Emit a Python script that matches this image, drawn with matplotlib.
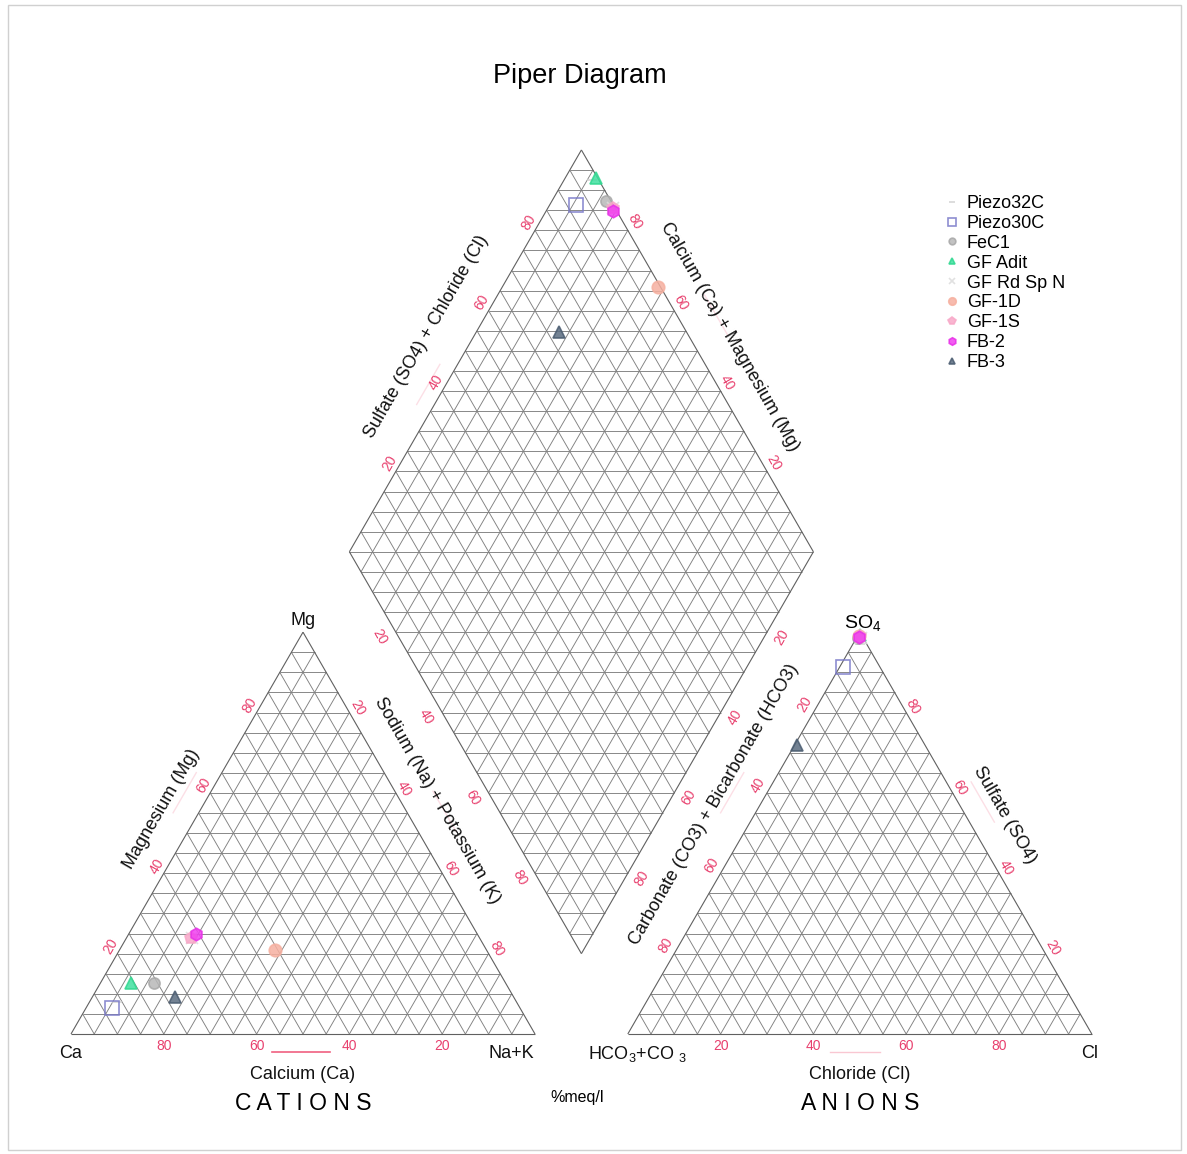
#Piper diagram of water samples

#importing libaries
import matplotlib
matplotlib.use("Agg")
import matplotlib.pyplot as plt
from matplotlib.patches import Rectangle
import numpy as np

plt.rcParams['font.family'] = ['Liberation Sans', 'DejaVu Sans']
plt.rcParams['mathtext.default'] = 'regular'

#sample data (%meq/l)
samples = ['Piezo32C', 'Piezo30C', 'FeC1', 'GF Adit', 'GF Rd Sp N',
           'GF-1D', 'GF-1S', 'FB-2', 'FB-3']
mg  = np.array([8.0, 6.5, 12.7, 12.7, 24.0, 20.9, 23.9, 24.9, 9.2])
nak = np.array([6.0, 5.6, 11.6, 6.6, 14.0, 33.5, 14.0, 14.5, 17.8])
ca  = 100 - mg - nak
so4 = np.array([97.0, 91.3, 98.6, 99.2, 98.5, 99.0, 99.0, 98.9, 71.9])
cl  = np.array([1.5, 0.7, 0.4, 0.4, 1.0, 0.4, 0.5, 0.4, 0.5])
hco3 = 100 - so4 - cl

#marker styles for each sample
styles = {
    'Piezo32C':   dict(marker='_', color='#d0d0d0', ms=7, mfc='#d0d0d0'),
    'Piezo30C':   dict(marker='s', color='#7a7ac8', ms=10, mfc='none'),
    'FeC1':       dict(marker='o', color='#a8a8a8', ms=8, mfc='#b8b8b8'),
    'GF Adit':    dict(marker='^', color='#30d890', ms=8, mfc='#40e0a0'),
    'GF Rd Sp N': dict(marker='x', color='#dcdcdc', ms=8, mfc='#dcdcdc'),
    'GF-1D':      dict(marker='o', color='#f6b0a0', ms=9, mfc='#f6b0a0'),
    'GF-1S':      dict(marker='p', color='#f8a8c8', ms=9, mfc='#f8a8c8'),
    'FB-2':       dict(marker='h', color='#e830e8', ms=9, mfc='#f040f0'),
    'FB-3':       dict(marker='^', color='#4a5c70', ms=8, mfc='#5a6c80'),
}

#geometry
S = 100.0
H = S*np.sqrt(3)/2
GAP = 20.0
ox = S + GAP               #anion triangle x offset
B = np.array([S + GAP/2, GAP*np.sqrt(3)/2])    #diamond bottom
L = B + np.array([-S/2, H])
R = B + np.array([S/2, H])
T = B + np.array([0, 2*H])

gridc = '#808080'
edgec = '#606060'
tickc = '#e8406e'

fig = plt.figure(figsize=(11.87, 11.54), dpi=100)
ax = fig.add_axes([0, 0, 1, 1])
ax.set_xlim(-71/4.64, (1187-71)/4.64)
ax.set_ylim(-(1154-1034)/4.64, 1034/4.64)
ax.axis('off')

def seg(p, q, **kw):
    ax.plot([p[0], q[0]], [p[1], q[1]], solid_capstyle='butt', **kw)

#triangle grids
def tri_grid(x0):
    A = np.array([x0, 0.0]); Bb = np.array([x0 + S, 0.0]); C = np.array([x0 + S/2, H])
    for k in range(1, 20):
        f = k/20
        seg(A + f*(C-A), Bb + f*(C-Bb), color=gridc, lw=0.65)
        seg(A + f*(Bb-A), C + f*(Bb-C), color=gridc, lw=0.65)
        seg(Bb + f*(A-Bb), C + f*(A-C), color=gridc, lw=0.65)
    for p, q in [(A, Bb), (Bb, C), (C, A)]:
        seg(p, q, color=edgec, lw=0.8)

tri_grid(0)
tri_grid(ox)

#diamond grid
for k in range(1, 20):
    f = k/20
    seg(B + f*(R-B), L + f*(T-L), color=gridc, lw=0.65)
    seg(B + f*(L-B), R + f*(T-R), color=gridc, lw=0.65)
for k in range(1, 40):
    y = B[1] + k*H/20
    if y <= L[1]:
        w = (y - B[1])/H*S/2
    else:
        w = (T[1] - y)/H*S/2
    seg((B[0]-w, y), (B[0]+w, y), color=gridc, lw=0.65)
for p, q in [(B, R), (R, T), (T, L), (L, B)]:
    seg(p, q, color=edgec, lw=0.8)

#tick labels
tk = dict(color=tickc, fontsize=10, ha='center', va='center')
for v in [20, 40, 60, 80]:
    f = v/100
    #cations
    ax.text(S - v, -2.5, str(v), **tk)
    ax.text(f*S/2 - 1.5, f*H + 1.6, str(v), rotation=60, **tk)
    ax.text(S - (1-f)*S/2 + 1.8, (1-f)*H + 1.0, str(v), rotation=-60, **tk)
    #anions
    ax.text(ox + v, -2.5, str(v), **tk)
    ax.text(ox + (1-f)*S/2 - 1.9, (1-f)*H + 1.7, str(v), rotation=60, **tk)
    ax.text(ox + S - f*S/2 + 1.5, f*H + 1.2, str(v), rotation=-60, **tk)
    #diamond
    p = L + f*(T-L); ax.text(p[0]-1.4, p[1]+1.8, str(v), rotation=60, **tk)
    p = R + f*(T-R); ax.text(p[0]+1.4, p[1]+1.8, str(v), rotation=-60, **tk)
    p = L + f*(B-L); ax.text(p[0]-3.4, p[1]-1.0, str(v), rotation=-60, **tk)
    p = R + f*(B-R); ax.text(p[0]+3.1, p[1]-1.0, str(v), rotation=60, **tk)

#axis titles
lab = dict(fontsize=13, ha='center', va='center', color='#111111')
ax.text(19.6, 48.5, 'Magnesium (Mg)', rotation=60, **lab)
ax.text(79.0, 50.4, 'Sodium (Na) + Potassium (K)', rotation=-60, **lab)
ax.text(S/2, -8.8, 'Calcium (Ca)', **lab)
ax.text(S/2, -14.9, 'C A T I O N S', fontsize=16.5, ha='center', va='center')
ax.text(138.6, 49.4, 'Carbonate (CO3) + Bicarbonate (HCO3)', rotation=60, **lab)
ax.text(201.3, 47.2, 'Sulfate (SO4)', rotation=-60, **lab)
ax.text(ox + S/2, -8.8, 'Chloride (Cl)', **lab)
ax.text(ox + S/2, -14.9, 'A N I O N S', fontsize=16.5, ha='center', va='center')
ax.text(109, -13.6, '%meq/l', fontsize=11.5, ha='center', va='center')
ax.text(76.5, 150.2, 'Sulfate (SO4) + Chloride (Cl)', rotation=60, **lab)
ax.text(142.0, 150.2, 'Calcium (Ca) + Magnesium (Mg)', rotation=-60, **lab)

#corner labels
ax.text(S/2, H + 2.6, 'Mg', **lab)
ax.text(-0.2, -4.1, 'Ca', **lab)
ax.text(95.0, -4.1, 'Na+K', **lab)
ax.text(122.0, -4.4, 'HCO$_3$+CO $_3$', **lab)
ax.text(ox + S/2 + 0.6, H + 2.0, 'SO$_4$', fontsize=14, ha='center', va='center')
ax.text(ox + S - 0.4, -4.1, 'Cl', **lab)

#title
ax.text(109.7, 206.5, 'Piper Diagram', fontsize=19.5, ha='center', va='center')

#pink direction arrows
ax.plot([43.3, 55.8], [-3.9, -3.9], color='#f06080', lw=1.2)
ax.plot([163.6, 174.4], [-3.9, -3.9], color='#f06080', lw=1.0, alpha=0.35)
for (x0, y0, ang) in [(24.5, 52.0, 60), (80.5, 48.0, -60), (142.5, 52.0, 60),
                      (196.5, 50.0, -60), (77.0, 140.0, 60), (139.0, 155.0, -60)]:
    d = 5*np.array([np.cos(np.radians(ang)), np.sin(np.radians(ang))])
    ax.plot([x0 - d[0], x0 + d[0]], [y0 - d[1], y0 + d[1]], color='#f06080', lw=1.0, alpha=0.2)

#plotting the points
for i, name in enumerate(samples):
    st = styles[name]
    kw = dict(marker=st['marker'], color=st['color'], mfc=st['mfc'], ms=st['ms'],
              mew=1.2, linestyle='none', alpha=0.85)
    #cation triangle
    xc = nak[i] + mg[i]/2
    yc = mg[i]/100*H
    #anion triangle
    xa = ox + cl[i] + so4[i]/2
    ya = so4[i]/100*H
    #diamond
    a = (so4[i] + cl[i])/100
    b = (ca[i] + mg[i])/100
    xd = B[0] + S/2*(a - b)
    yd = B[1] + H*(a + b)
    ax.plot([xc, xa, xd], [yc, ya, yd], label=name, **kw)

leg = ax.legend(loc='upper left', bbox_to_anchor=(945/1187, 1 - 195/1154),
                bbox_transform=fig.transFigure, frameon=False, fontsize=13,
                handlelength=0.8, handletextpad=0.4, labelspacing=0.16,
                borderpad=0, borderaxespad=0, markerscale=0.6, numpoints=1)

#frame
fig.patches.append(Rectangle((8/1187, 4/1154), 1173/1187, 1145/1154, fill=False,
                             edgecolor='#d0d0d0', lw=1, transform=fig.transFigure))

plt.savefig('out.png', dpi=100)
